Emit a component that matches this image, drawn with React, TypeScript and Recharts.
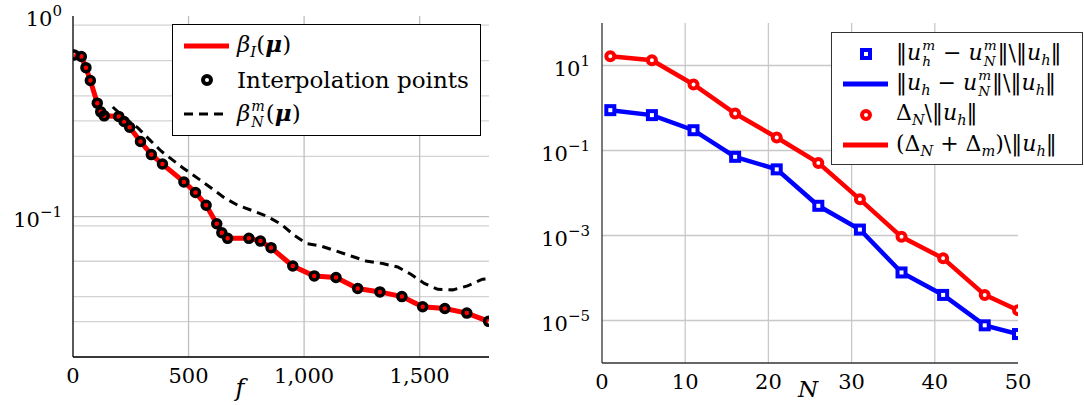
import React from 'react';
import { LineChart, Line, XAxis, YAxis, CartesianGrid, Legend } from 'recharts';

const FONT = 'DejaVu Serif';

// left panel: interpolation points of beta_I (the red curve runs through them)
const interpF = [5, 36, 56, 75, 105, 120, 135, 198, 221, 245, 292, 339, 387, 480, 530, 576, 622, 644, 669, 761, 811, 857, 951, 1044, 1138, 1232, 1328, 1423, 1513, 1609, 1704, 1798];
const interpBeta = [0.64, 0.628, 0.553, 0.477, 0.368, 0.333, 0.318, 0.316, 0.298, 0.279, 0.237, 0.204, 0.183, 0.149, 0.132, 0.114, 0.0923, 0.0832, 0.078, 0.078, 0.0756, 0.0701, 0.0568, 0.0507, 0.0498, 0.0439, 0.0422, 0.04, 0.0356, 0.0349, 0.0331, 0.0301];

// left panel: beta_N^m (dashed)
const betaNF = [172, 224, 281, 331, 382, 476, 548, 598, 656, 713, 778, 843, 901, 958, 1009, 1073, 1138, 1203, 1268, 1340, 1405, 1462, 1520, 1578, 1643, 1707, 1772, 1800];
const betaNVals = [0.352, 0.31, 0.277, 0.242, 0.212, 0.175, 0.153, 0.139, 0.124, 0.114, 0.107, 0.1, 0.0916, 0.0807, 0.0736, 0.0714, 0.0675, 0.0637, 0.0602, 0.0584, 0.0562, 0.0517, 0.0465, 0.0435, 0.0432, 0.0452, 0.0488, 0.049];

const leftXTicks = [0, 500, 1000, 1500];
const leftYTicks = [0.1, 1];
const leftMinorY = [0.02, 0.03, 0.04, 0.05, 0.06, 0.07, 0.08, 0.09, 0.2, 0.3, 0.4, 0.5, 0.6, 0.7, 0.8, 0.9];

// right panel: error vs N (markers and lines share the same values)
const nValues = [1, 6, 11, 16, 21, 26, 31, 36, 41, 46, 50];
const errRel = [0.89, 0.68, 0.3, 0.071, 0.036, 0.005, 0.00138, 0.000135, 0.00004, 0.0000077, 0.0000048];
const deltaRel = [16.6, 13.3, 3.57, 0.74, 0.202, 0.051, 0.0071, 0.00093, 0.00029, 0.00004, 0.0000175];

const rightXTicks = [0, 10, 20, 30, 40, 50];
const rightYTicks = [0.00001, 0.001, 0.1, 10];

const interpData = interpF.map((f, i) => ({ f, beta: interpBeta[i] }));
const betaNData = betaNF.map((f, i) => ({ f, beta: betaNVals[i] }));
const errData = nValues.map((n, i) => ({ n, err: errRel[i], delta: deltaRel[i] }));

const PowTick = (props: any) => {
  const { x, y, payload } = props;
  const e = Math.round(Math.log10(payload.value));
  const exp = e < 0 ? `\u2212${-e}` : `${e}`;
  return (
    <text x={x} y={y} dy={10} textAnchor="end" fill="#000" fontSize={21} fontFamily={FONT}>
      10<tspan dy={-10} fontSize={15}>{exp}</tspan>
    </text>
  );
};

const SupSub = ({ sup, sub }: { sup: string; sub: string }) => (
  <span style={{ display: 'inline-flex', flexDirection: 'column', fontSize: '0.62em', lineHeight: 1.15, verticalAlign: '0.7em', fontStyle: 'italic', margin: '0 1px' }}>
    <span>{sup}</span>
    <span>{sub}</span>
  </span>
);

const Sub = ({ children }: { children: React.ReactNode }) => (
  <span style={{ fontSize: '0.66em', verticalAlign: '-0.35em', fontStyle: 'italic' }}>{children}</span>
);

const Mu = () => <b><i>μ</i></b>;

const Swatch = ({ kind, color }: { kind: string; color: string }) => (
  <svg width={56} height={20} style={{ flex: 'none', marginRight: 8 }}>
    {kind === 'line' && <line x1={11} x2={56} y1={10} y2={10} stroke={color} strokeWidth={5} />}
    {kind === 'dash' && <line x1={11} x2={56} y1={10} y2={10} stroke={color} strokeWidth={3} strokeDasharray="9 6" />}
    {kind === 'circle' && <circle cx={34} cy={10} r={4} fill="#fff" stroke={color} strokeWidth={4} />}
    {kind === 'square' && <rect x={30} y={6} width={8} height={8} fill="#fff" stroke={color} strokeWidth={4} />}
  </svg>
);

const rowStyle: React.CSSProperties = { display: 'flex', alignItems: 'center', whiteSpace: 'nowrap' };

const LeftLegend = () => (
  <div style={{ border: '1.3px solid #000', background: '#fff', width: 309, height: 112, boxSizing: 'border-box', paddingTop: 4, fontFamily: FONT, fontSize: 23, color: '#000' }}>
    <div style={{ ...rowStyle, height: 34 }}>
      <Swatch kind="line" color="#ff0000" />
      <span><i>β</i><Sub>I</Sub>(<Mu />)</span>
    </div>
    <div style={{ ...rowStyle, height: 34 }}>
      <Swatch kind="circle" color="#000" />
      <span>Interpolation points</span>
    </div>
    <div style={{ ...rowStyle, height: 34 }}>
      <Swatch kind="dash" color="#000" />
      <span><i>β</i><SupSub sup="m" sub="N" />(<Mu />)</span>
    </div>
  </div>
);

const RightLegend = () => (
  <div style={{ border: '1.3px solid #333', background: '#fff', width: 252, height: 133, boxSizing: 'border-box', paddingTop: 5, fontFamily: FONT, fontSize: 22, color: '#000' }}>
    <div style={{ ...rowStyle, height: 31 }}>
      <Swatch kind="square" color="#0000ff" />
      <span>‖<i>u</i><SupSub sup="m" sub="h" /> − <i>u</i><SupSub sup="m" sub="N" />‖\‖<i>u</i><Sub>h</Sub>‖</span>
    </div>
    <div style={{ ...rowStyle, height: 30 }}>
      <Swatch kind="line" color="#0000ff" />
      <span>‖<i>u</i><Sub>h</Sub> − <i>u</i><SupSub sup="m" sub="N" />‖\‖<i>u</i><Sub>h</Sub>‖</span>
    </div>
    <div style={{ ...rowStyle, height: 31 }}>
      <Swatch kind="circle" color="#ff0000" />
      <span>Δ<Sub>N</Sub>\‖<i>u</i><Sub>h</Sub>‖</span>
    </div>
    <div style={{ ...rowStyle, height: 30 }}>
      <Swatch kind="line" color="#ff0000" />
      <span>(Δ<Sub>N</Sub> + Δ<Sub>m</Sub>)\‖<i>u</i><Sub>h</Sub>‖</span>
    </div>
  </div>
);

const SquareDot = (props: any) => {
  const { cx, cy, index } = props;
  if (cx == null || cy == null) return null;
  return <rect key={`sq-${index}`} x={cx - 4} y={cy - 4} width={8} height={8} fill="#fff" stroke="#0000ff" strokeWidth={4} />;
};

const tickStyle = { fill: '#000', fontSize: 21, fontFamily: FONT };

const LeftChart = () => (
  <LineChart width={520} height={405} margin={{ top: 16, right: 31, bottom: 8, left: 13 }}>
    <CartesianGrid horizontalValues={leftMinorY} vertical={false} stroke="#d3d3d3" strokeWidth={1.3} />
    <CartesianGrid horizontalValues={[0.1]} verticalValues={[500, 1000, 1500]} stroke="#bfbfbf" strokeWidth={1.3} />
    <XAxis
      dataKey="f"
      type="number"
      domain={[0, 1800]}
      ticks={leftXTicks}
      allowDataOverflow
      tickFormatter={(v: number) => v.toLocaleString('en-US')}
      tickLine={false}
      tickSize={0}
      tickMargin={11}
      height={40}
      tick={tickStyle}
      axisLine={{ stroke: '#000', strokeWidth: 1.3 }}
      label={{
        content: () => (
          <text x={240} y={396} textAnchor="middle" fontStyle="italic" fontSize={24} fontFamily={FONT} fill="#000">f</text>
        ),
      }}
    />
    <YAxis
      scale="log"
      domain={[0.02, 1]}
      ticks={leftYTicks}
      allowDataOverflow
      width={60}
      tickLine={false}
      tickSize={0}
      tickMargin={11}
      tick={<PowTick />}
      axisLine={{ stroke: '#000', strokeWidth: 1.3 }}
    />
    <XAxis xAxisId="top" orientation="top" type="number" domain={[0, 1]} height={0} tick={false} tickLine={false} axisLine={{ stroke: '#000', strokeWidth: 1.3 }} />
    <YAxis yAxisId="right" orientation="right" type="number" domain={[0, 1]} width={0} tick={false} tickLine={false} axisLine={{ stroke: '#000', strokeWidth: 1.3 }} />
    <Line data={interpData} dataKey="beta" stroke="#ff0000" strokeWidth={5} dot={false} activeDot={false} isAnimationActive={false} />
    <Line data={interpData} dataKey="beta" stroke="none" dot={{ r: 4, stroke: '#000', strokeWidth: 3.5, fill: 'none' }} activeDot={false} isAnimationActive={false} />
    <Line data={betaNData} dataKey="beta" stroke="#000" strokeWidth={3} strokeDasharray="9 6" dot={false} activeDot={false} isAnimationActive={false} />
    <Legend layout="vertical" align="center" verticalAlign="middle" wrapperStyle={{ left: 172, top: 24, width: 309 }} content={() => <LeftLegend />} />
  </LineChart>
);

const RightChart = () => (
  <LineChart width={554} height={405} margin={{ top: 23, right: 66, bottom: 6, left: 17 }}>
    <CartesianGrid horizontalValues={rightYTicks} verticalValues={[10, 20, 30, 40]} stroke="#c8c8c8" strokeWidth={1.3} />
    <XAxis
      dataKey="n"
      type="number"
      domain={[0, 50]}
      ticks={rightXTicks}
      allowDataOverflow
      tickLine={false}
      tickSize={0}
      tickMargin={11}
      height={36}
      tick={tickStyle}
      axisLine={{ stroke: '#333', strokeWidth: 1.3 }}
      label={{
        content: () => (
          <text x={278} y={397} textAnchor="middle" fontStyle="italic" fontSize={23} fontFamily={FONT} fill="#000">N</text>
        ),
      }}
    />
    <YAxis
      scale="log"
      domain={[0.000001, 100]}
      ticks={rightYTicks}
      allowDataOverflow
      width={55}
      tickLine={false}
      tickSize={0}
      tickMargin={12}
      tick={<PowTick />}
      axisLine={{ stroke: '#333', strokeWidth: 1.3 }}
    />
    <XAxis xAxisId="top" orientation="top" type="number" domain={[0, 1]} height={0} tick={false} tickLine={false} axisLine={{ stroke: '#333', strokeWidth: 1.3 }} />
    <YAxis yAxisId="right" orientation="right" type="number" domain={[0, 1]} width={0} tick={false} tickLine={false} axisLine={{ stroke: '#333', strokeWidth: 1.3 }} />
    <Line data={errData} dataKey="err" stroke="#0000ff" strokeWidth={4.5} dot={false} activeDot={false} isAnimationActive={false} />
    <Line data={errData} dataKey="err" stroke="none" dot={<SquareDot />} activeDot={false} isAnimationActive={false} />
    <Line data={errData} dataKey="delta" stroke="#ff0000" strokeWidth={4.5} dot={false} activeDot={false} isAnimationActive={false} />
    <Line data={errData} dataKey="delta" stroke="none" dot={{ r: 4, stroke: '#ff0000', strokeWidth: 4, fill: '#fff' }} activeDot={false} isAnimationActive={false} />
    <Legend layout="vertical" align="center" verticalAlign="middle" wrapperStyle={{ left: 301, top: 32, width: 252 }} content={() => <RightLegend />} />
  </LineChart>
);

export default function App() {
  return (
    <div style={{ position: 'absolute', left: 0, top: 0, width: 1084, height: 405, background: '#fff', overflow: 'hidden' }}>
      <div style={{ position: 'absolute', left: 0, top: 0 }}>
        <LeftChart />
      </div>
      <div style={{ position: 'absolute', left: 530, top: 0 }}>
        <RightChart />
      </div>
    </div>
  );
}
